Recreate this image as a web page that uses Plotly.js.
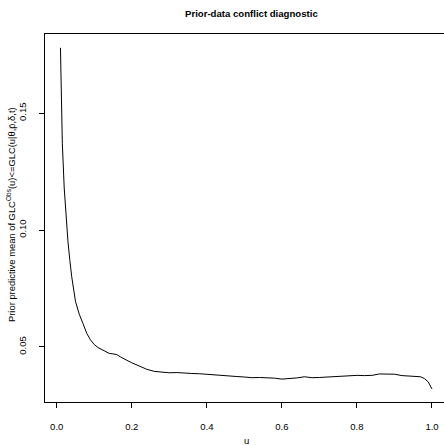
<!DOCTYPE html>
<html>
<head>
<meta charset="utf-8">
<script src="https://cdn.plot.ly/plotly-3.0.1.min.js"></script>
<style>html,body{margin:0;padding:0;background:#fff;}#chart{width:444px;height:445px;}</style>
</head>
<body>
<div id="chart"></div>
<script>
var u = [0.01,0.015,0.02,0.025,0.03,0.035,0.04,0.05,0.06,0.07,0.08,0.09,0.10,0.11,0.12,0.13,0.14,0.15,0.16,0.17,0.18,0.19,0.20,0.22,0.24,0.26,0.28,0.30,0.32,0.34,0.36,0.38,0.40,0.42,0.44,0.46,0.48,0.50,0.52,0.54,0.56,0.58,0.60,0.62,0.64,0.66,0.68,0.70,0.72,0.74,0.76,0.78,0.80,0.82,0.84,0.86,0.88,0.90,0.92,0.94,0.96,0.97,0.98,0.99,1.00];
var meanGLC = [0.178,0.137,0.118,0.104,0.095,0.087,0.080,0.0695,0.064,0.060,0.0558,0.053,0.051,0.0497,0.0488,0.0479,0.0472,0.0470,0.0467,0.0457,0.0447,0.0440,0.0432,0.0418,0.0404,0.0395,0.0391,0.0389,0.0390,0.0387,0.0386,0.0385,0.0382,0.0380,0.0377,0.0375,0.0373,0.0371,0.0368,0.0369,0.0368,0.0366,0.0362,0.0363,0.0367,0.0372,0.0368,0.0369,0.0371,0.0373,0.0375,0.0376,0.0378,0.0377,0.0378,0.0384,0.0384,0.0383,0.0377,0.0376,0.0374,0.0372,0.0364,0.0350,0.0320];
var xTicks = [0,0.2,0.4,0.6,0.8,1.0];
var xTickText = ["0.0","0.2","0.4","0.6","0.8","1.0"];
var yTicks = [0.05,0.10,0.15];
var yTickText = ["0.05","0.10","0.15"];

var ff = "Liberation Sans, Arial, sans-serif";
var font = {family: ff, size: 9.5, color: "#000"};
var trace = {x: u, y: meanGLC, type: "scatter", mode: "lines", line: {color: "#000", width: 1}, hoverinfo: "skip"};
var layout = {
  width: 444, height: 445,
  margin: {l: 45, r: 0, t: 34, b: 43, pad: 0},
  paper_bgcolor: "#fff", plot_bgcolor: "#fff",
  showlegend: false,
  font: font,
  xaxis: {range: [-0.0312, 1.032], tickvals: xTicks, ticktext: xTickText, ticks: "outside", ticklen: 5, tickcolor: "#000", tickwidth: 1,
          showline: true, mirror: true, linecolor: "#000", linewidth: 1, showgrid: false, zeroline: false, tickfont: font, ticklabelstandoff: 11},
  yaxis: {range: [0.0264, 0.1839], tickvals: yTicks, ticktext: yTickText, ticks: "outside", ticklen: 5, tickcolor: "#000", tickwidth: 1,
          showline: true, mirror: false, linecolor: "#000", linewidth: 1, showgrid: false, zeroline: false, tickfont: font, tickangle: -90, ticklabelstandoff: 9},
  annotations: [
    {text: "<b>Prior-data conflict diagnostic</b>", xref: "paper", yref: "paper", x: 0.518, y: 1, yshift: 21, showarrow: false,
     font: {family: ff, size: 9.6, color: "#000"}, xanchor: "center", yanchor: "middle"},
    {text: "u", xref: "paper", yref: "paper", x: 0.506, y: 0, yshift: -38, showarrow: false, font: font, xanchor: "center", yanchor: "middle"},
    {text: "Prior predictive mean of GLC<sup>Obs</sup>(u)<=GLC(u|\u03b8,p\u0304,\u03b4,t)", xref: "paper", yref: "paper", x: 0, xshift: -34, y: 0.5, yshift: 3,
     textangle: -90, showarrow: false, font: {family: ff, size: 9.4, color: "#000"}, xanchor: "center", yanchor: "middle"}
  ]
};
Plotly.newPlot("chart", [trace], layout, {displayModeBar: false, staticPlot: true});
</script>
</body>
</html>
